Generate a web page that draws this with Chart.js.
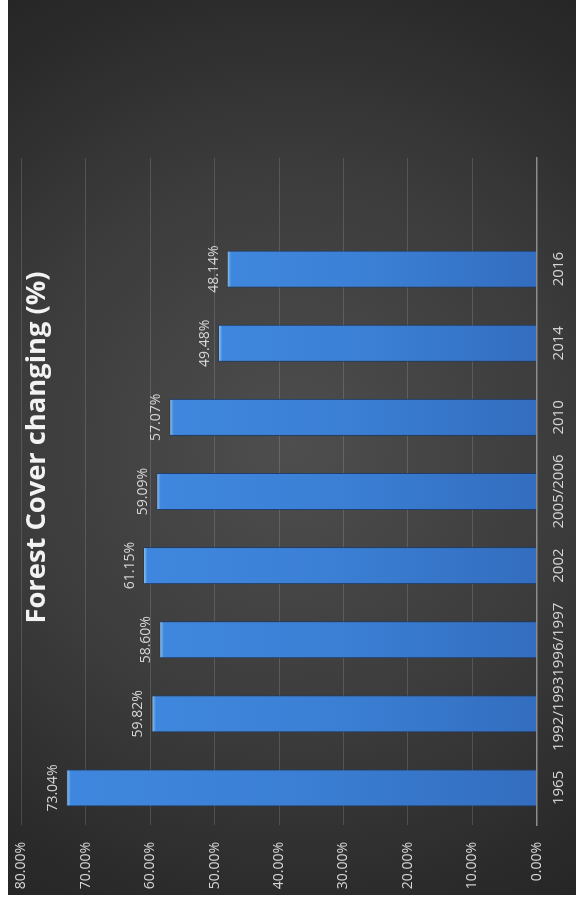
<!DOCTYPE html>
<html><head><meta charset="utf-8">
<script src="https://cdn.jsdelivr.net/npm/chart.js@4.4.1/dist/chart.umd.min.js"></script>
<style>
html,body{margin:0;padding:0;background:#fff;width:576px;height:903px;overflow:hidden}
#rot{position:absolute;left:0;top:903px;width:903px;height:576px;transform-origin:0 0;transform:rotate(-90deg);background:#fff}
#c{position:absolute;left:8px;top:8px}
</style></head><body>
<div id="rot"><canvas id="c" width="895" height="568"></canvas></div>
<script>
const categories = ['1965', '1992/1993', '1996/1997', '2002', '2005/2006', '2010', '2014', '2016', ''];
const forestCover = [73.04, 59.82, 58.60, 61.15, 59.09, 57.07, 49.48, 48.14, null];
const valueTicks = [0, 10, 20, 30, 40, 50, 60, 70, 80];
const titleText = 'Forest Cover changing (%)';

const FONT = "'Open Sans', 'DejaVu Sans', sans-serif";

const bgPlugin = {
  id: 'bg',
  beforeDraw(chart) {
    const {ctx, width, height} = chart;
    const g = ctx.createRadialGradient(width / 2, height / 2, 0, width / 2, height / 2, 540);
    g.addColorStop(0, '#4e4e4e');
    g.addColorStop(0.53, '#3b3b3b');
    g.addColorStop(0.83, '#2c2c2c');
    g.addColorStop(1, '#252525');
    ctx.save();
    ctx.fillStyle = g;
    ctx.fillRect(0, 0, width, height);
    ctx.restore();
  }
};

const labelPlugin = {
  id: 'valueLabels',
  afterDatasetsDraw(chart) {
    const {ctx} = chart;
    const meta = chart.getDatasetMeta(0);
    ctx.save();
    ctx.font = '14px ' + FONT;
    ctx.fillStyle = '#d6d6d6';
    ctx.textAlign = 'center';
    ctx.textBaseline = 'alphabetic';
    meta.data.forEach((el, i) => {
      const v = forestCover[i];
      if (v === null || v === undefined) return;
      ctx.fillText(v.toFixed(2) + '%', el.x, el.y - 9);
    });
    ctx.restore();
  }
};

new Chart(document.getElementById('c'), {
  type: 'bar',
  data: {
    labels: categories,
    datasets: [{
      data: forestCover,
      yAxisID: 'y',
      backgroundColor: (c) => {
        const chart = c.chart;
        if (!chart.chartArea || c.type !== 'data' || c.raw === null) return '#3d83da';
        const ys = chart.scales.y;
        const top = ys.getPixelForValue(c.raw);
        const base = ys.getPixelForValue(0);
        const h = Math.max(base - top, 1);
        const g = chart.ctx.createLinearGradient(0, top, 0, base);
        g.addColorStop(0, '#9dd2ff');
        g.addColorStop(Math.min(2.5 / h, 1), '#62a6ee');
        g.addColorStop(Math.min(4.5 / h, 1), '#3f87de');
        g.addColorStop(0.5, '#3a7fd4');
        g.addColorStop(1, '#336dbf');
        return g;
      },
      borderColor: '#1d3d6b',
      borderWidth: 1,
      borderSkipped: 'start',
      categoryPercentage: 1,
      barPercentage: 0.5
    }]
  },
  options: {
    responsive: false,
    animation: false,
    devicePixelRatio: 1,
    layout: {padding: 0},
    plugins: {
      legend: {display: false},
      tooltip: {enabled: false},
      title: {
        display: true,
        text: titleText,
        color: '#f2f2f2',
        font: {family: FONT, size: 27.3, weight: 'bold', lineHeight: 1.2},
        padding: {top: 13.3, bottom: -32.56}
      }
    },
    scales: {
      x: {
        type: 'category',
        grid: {display: false, drawTicks: false},
        border: {display: true, color: '#8c8c8c', width: 1.5},
        ticks: {
          color: '#d6d6d6',
          font: {family: FONT, size: 15},
          padding: 13.5,
          autoSkip: false,
          maxRotation: 0,
          minRotation: 0
        },
        afterFit: (s) => { s.height = 39.3; }
      },
      y: {
        type: 'linear',
        position: 'left',
        min: 0,
        max: 80,
        grid: {color: 'rgba(255,255,255,0.14)', lineWidth: 1, drawTicks: true, tickLength: 17, tickColor: 'rgba(0,0,0,0)'},
        border: {display: false},
        afterBuildTicks: (s) => { s.ticks = valueTicks.map(v => ({value: v})); },
        ticks: {
          color: '#d6d6d6',
          font: {family: FONT, size: 14},
          padding: 0,
          callback: (v) => Number(v).toFixed(2) + '%'
        },
        afterFit: (s) => { s.width = 70; }
      },
      yRight: {
        type: 'linear',
        position: 'right',
        display: true,
        grid: {display: false, drawTicks: false},
        border: {display: false},
        ticks: {display: false},
        afterFit: (s) => { s.width = 158; }
      }
    }
  },
  plugins: [bgPlugin, labelPlugin]
});
</script>
</body></html>
